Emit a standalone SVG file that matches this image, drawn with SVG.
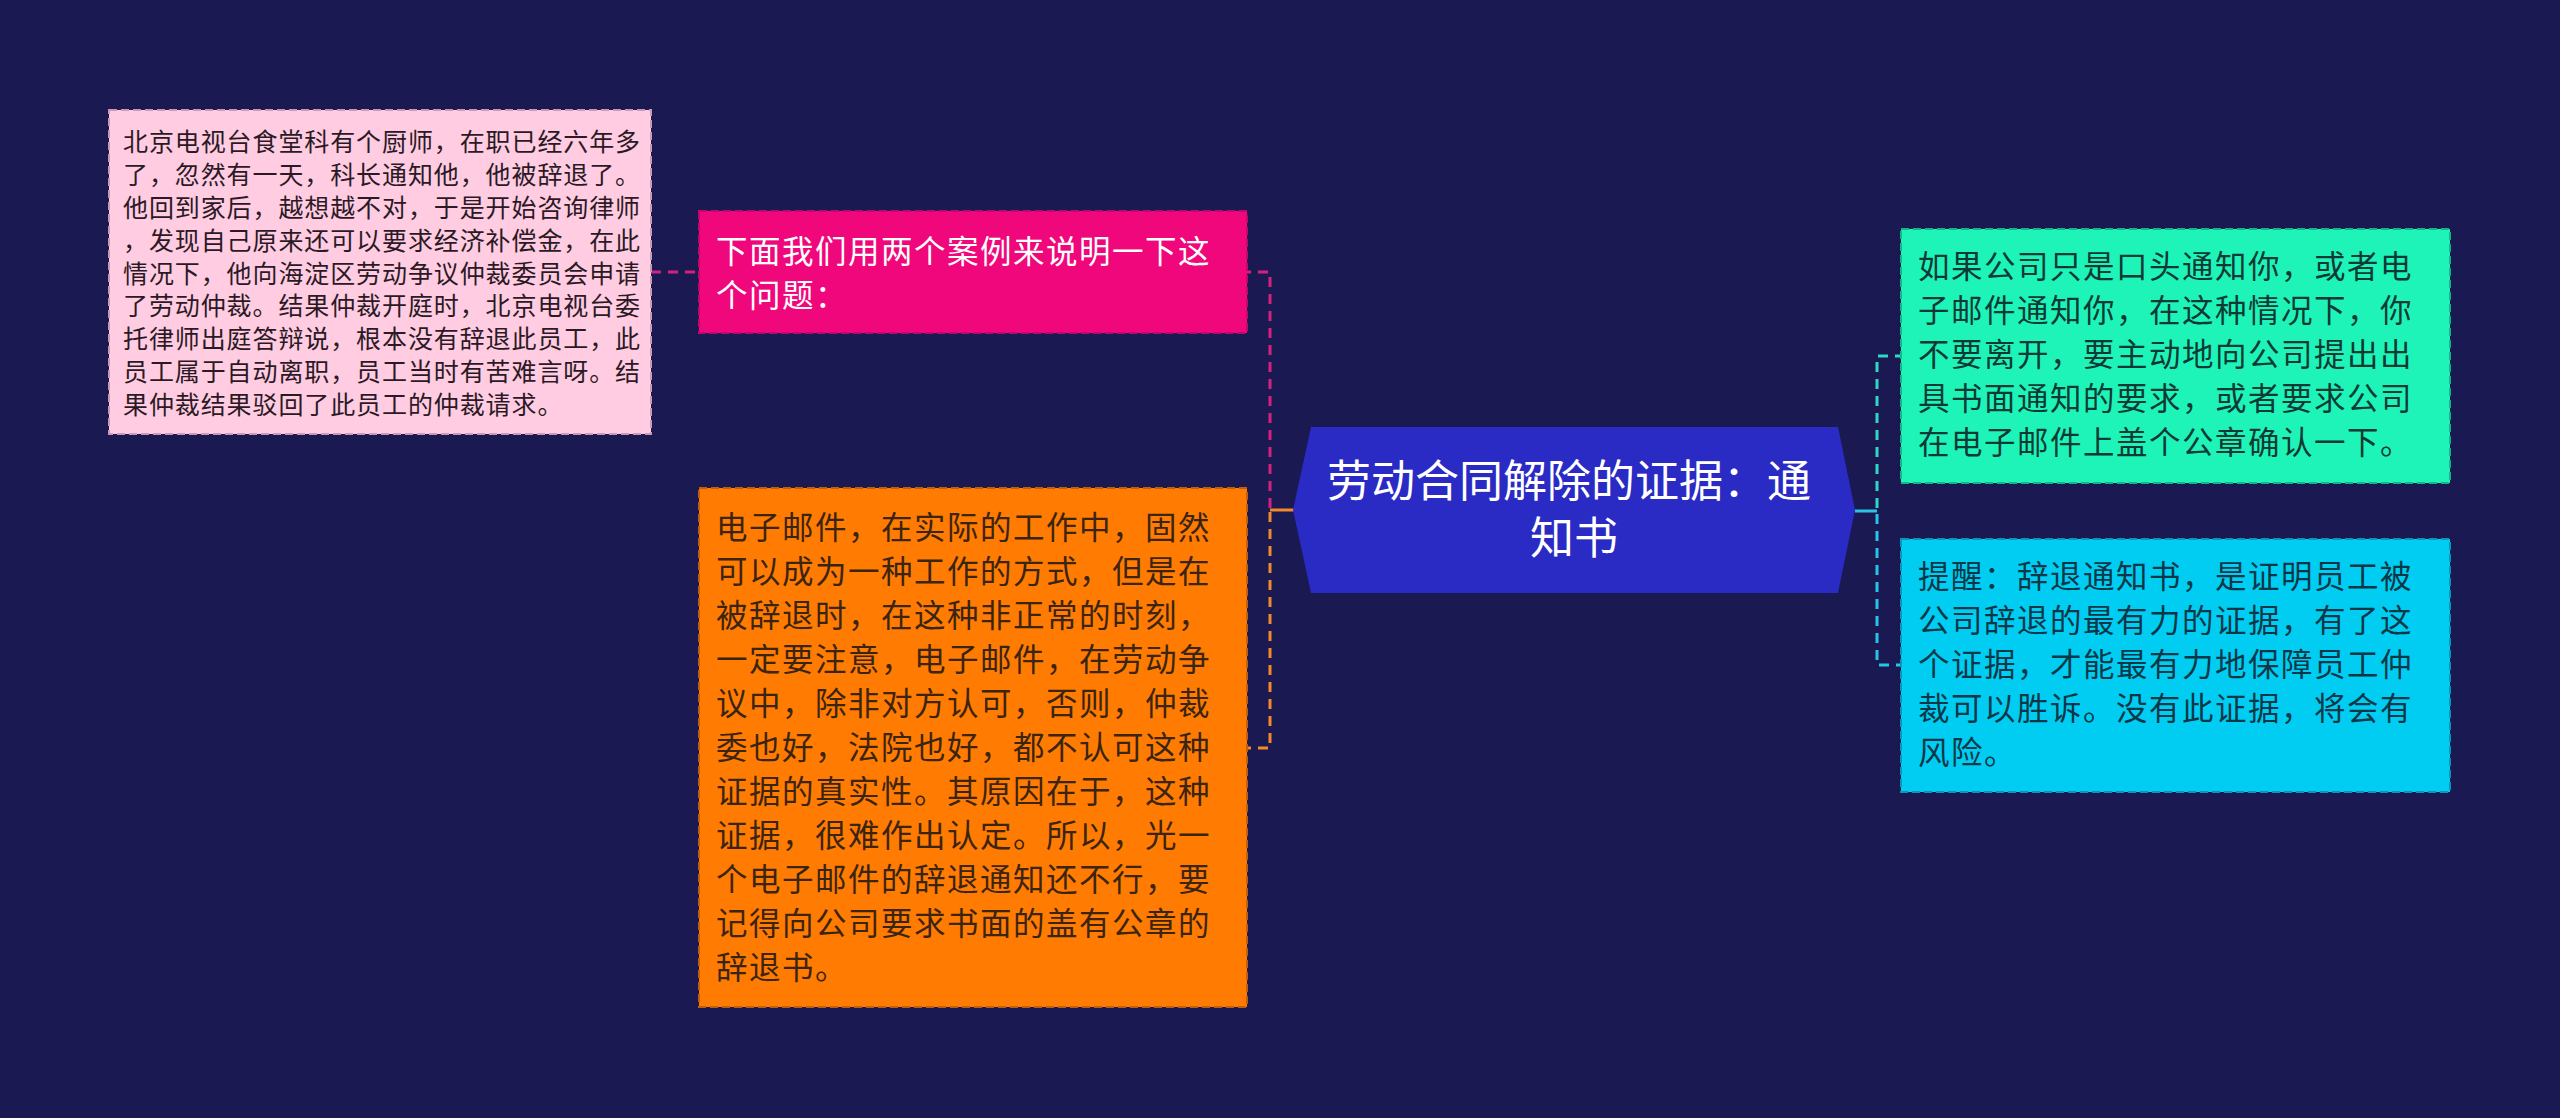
<svg xmlns="http://www.w3.org/2000/svg" width="2560" height="1118" viewBox="0 0 2560 1118">
<defs>
<style>
.t{font-family:"Noto Sans CJK SC","Noto Sans",sans-serif;font-weight:400}
.s{font-size:25px;letter-spacing:0.9px;fill:#2b1a26}
.m{font-size:31.5px;letter-spacing:1.5px}
.box{stroke-width:2;stroke-dasharray:8 4}
.con{fill:none;stroke-width:3;stroke-dasharray:10 7}
</style>
</defs>
<rect x="0" y="0" width="2560" height="1118" fill="#1b1951"/>

<g id="connectors">
<path class="con" d="M651,272 H699" stroke="#d4207f"/>
<path class="con" d="M1270,508 V272 H1247" stroke="#d4207f"/>
<path d="M1294,510 H1270" fill="none" stroke="#f08a2c" stroke-width="3"/>
<path class="con" d="M1270,512 V748 H1247" stroke="#f08a2c"/>
<path d="M1855,511 H1877" fill="none" stroke="#27c4e6" stroke-width="3"/>
<path class="con" d="M1877,508 V356 H1900" stroke="#2ed8c4"/>
<path class="con" d="M1877,514 V665 H1900" stroke="#27c4e6"/>
</g>

<g id="node-case1">
<rect class="box" x="109" y="110" width="542" height="324" fill="#ffcce1" stroke="#c99ab3"/>
<text class="t s">
<tspan x="123" y="151">北京电视台食堂科有个厨师，在职已经六年多</tspan>
<tspan x="123" y="184">了，忽然有一天，科长通知他，他被辞退了。</tspan>
<tspan x="123" y="217">他回到家后，越想越不对，于是开始咨询律师</tspan>
<tspan x="123" y="250">，发现自己原来还可以要求经济补偿金，在此</tspan>
<tspan x="123" y="283">情况下，他向海淀区劳动争议仲裁委员会申请</tspan>
<tspan x="123" y="315">了劳动仲裁。结果仲裁开庭时，北京电视台委</tspan>
<tspan x="123" y="348">托律师出庭答辩说，根本没有辞退此员工，此</tspan>
<tspan x="123" y="381">员工属于自动离职，员工当时有苦难言呀。结</tspan>
<tspan x="123" y="414">果仲裁结果驳回了此员工的仲裁请求。</tspan>
</text>
</g>

<g id="node-intro">
<rect class="box" x="699" y="211" width="548" height="122" fill="#f0077b" stroke="#c4056a"/>
<text class="t m" fill="#ffffff">
<tspan x="716" y="263">下面我们用两个案例来说明一下这</tspan>
<tspan x="716" y="307">个问题：</tspan>
</text>
</g>

<g id="node-email">
<rect class="box" x="699" y="488" width="548" height="519" fill="#ff7b02" stroke="#c25e08"/>
<text class="t m" fill="#3b2410">
<tspan x="716" y="539">电子邮件，在实际的工作中，固然</tspan>
<tspan x="716" y="583">可以成为一种工作的方式，但是在</tspan>
<tspan x="716" y="627">被辞退时，在这种非正常的时刻，</tspan>
<tspan x="716" y="671">一定要注意，电子邮件，在劳动争</tspan>
<tspan x="716" y="715">议中，除非对方认可，否则，仲裁</tspan>
<tspan x="716" y="759">委也好，法院也好，都不认可这种</tspan>
<tspan x="716" y="803">证据的真实性。其原因在于，这种</tspan>
<tspan x="716" y="847">证据，很难作出认定。所以，光一</tspan>
<tspan x="716" y="891">个电子邮件的辞退通知还不行，要</tspan>
<tspan x="716" y="935">记得向公司要求书面的盖有公章的</tspan>
<tspan x="716" y="979">辞退书。</tspan>
</text>
</g>

<g id="node-center">
<polygon points="1311,427 1838,427 1855,510 1838,593 1311,593 1293,510" fill="#2a2ac5"/>
<text class="t" font-size="44" fill="#ffffff" text-anchor="middle">
<tspan x="1574" y="497">劳动合同解除的证据：通</tspan>
<tspan x="1574" y="554">知书</tspan>
</text>
</g>

<g id="node-verbal">
<rect class="box" x="1901" y="229" width="549" height="254" fill="#1ef4b8" stroke="#14b58a"/>
<text class="t m" fill="#0e3a35">
<tspan x="1918" y="278">如果公司只是口头通知你，或者电</tspan>
<tspan x="1918" y="322">子邮件通知你，在这种情况下，你</tspan>
<tspan x="1918" y="366">不要离开，要主动地向公司提出出</tspan>
<tspan x="1918" y="410">具书面通知的要求，或者要求公司</tspan>
<tspan x="1918" y="454">在电子邮件上盖个公章确认一下。</tspan>
</text>
</g>

<g id="node-reminder">
<rect class="box" x="1901" y="539" width="549" height="253" fill="#00cdf1" stroke="#0797b8"/>
<text class="t m" fill="#0b3848">
<tspan x="1918" y="588">提醒：辞退通知书，是证明员工被</tspan>
<tspan x="1918" y="632">公司辞退的最有力的证据，有了这</tspan>
<tspan x="1918" y="676">个证据，才能最有力地保障员工仲</tspan>
<tspan x="1918" y="720">裁可以胜诉。没有此证据，将会有</tspan>
<tspan x="1918" y="764">风险。</tspan>
</text>
</g>
</svg>
